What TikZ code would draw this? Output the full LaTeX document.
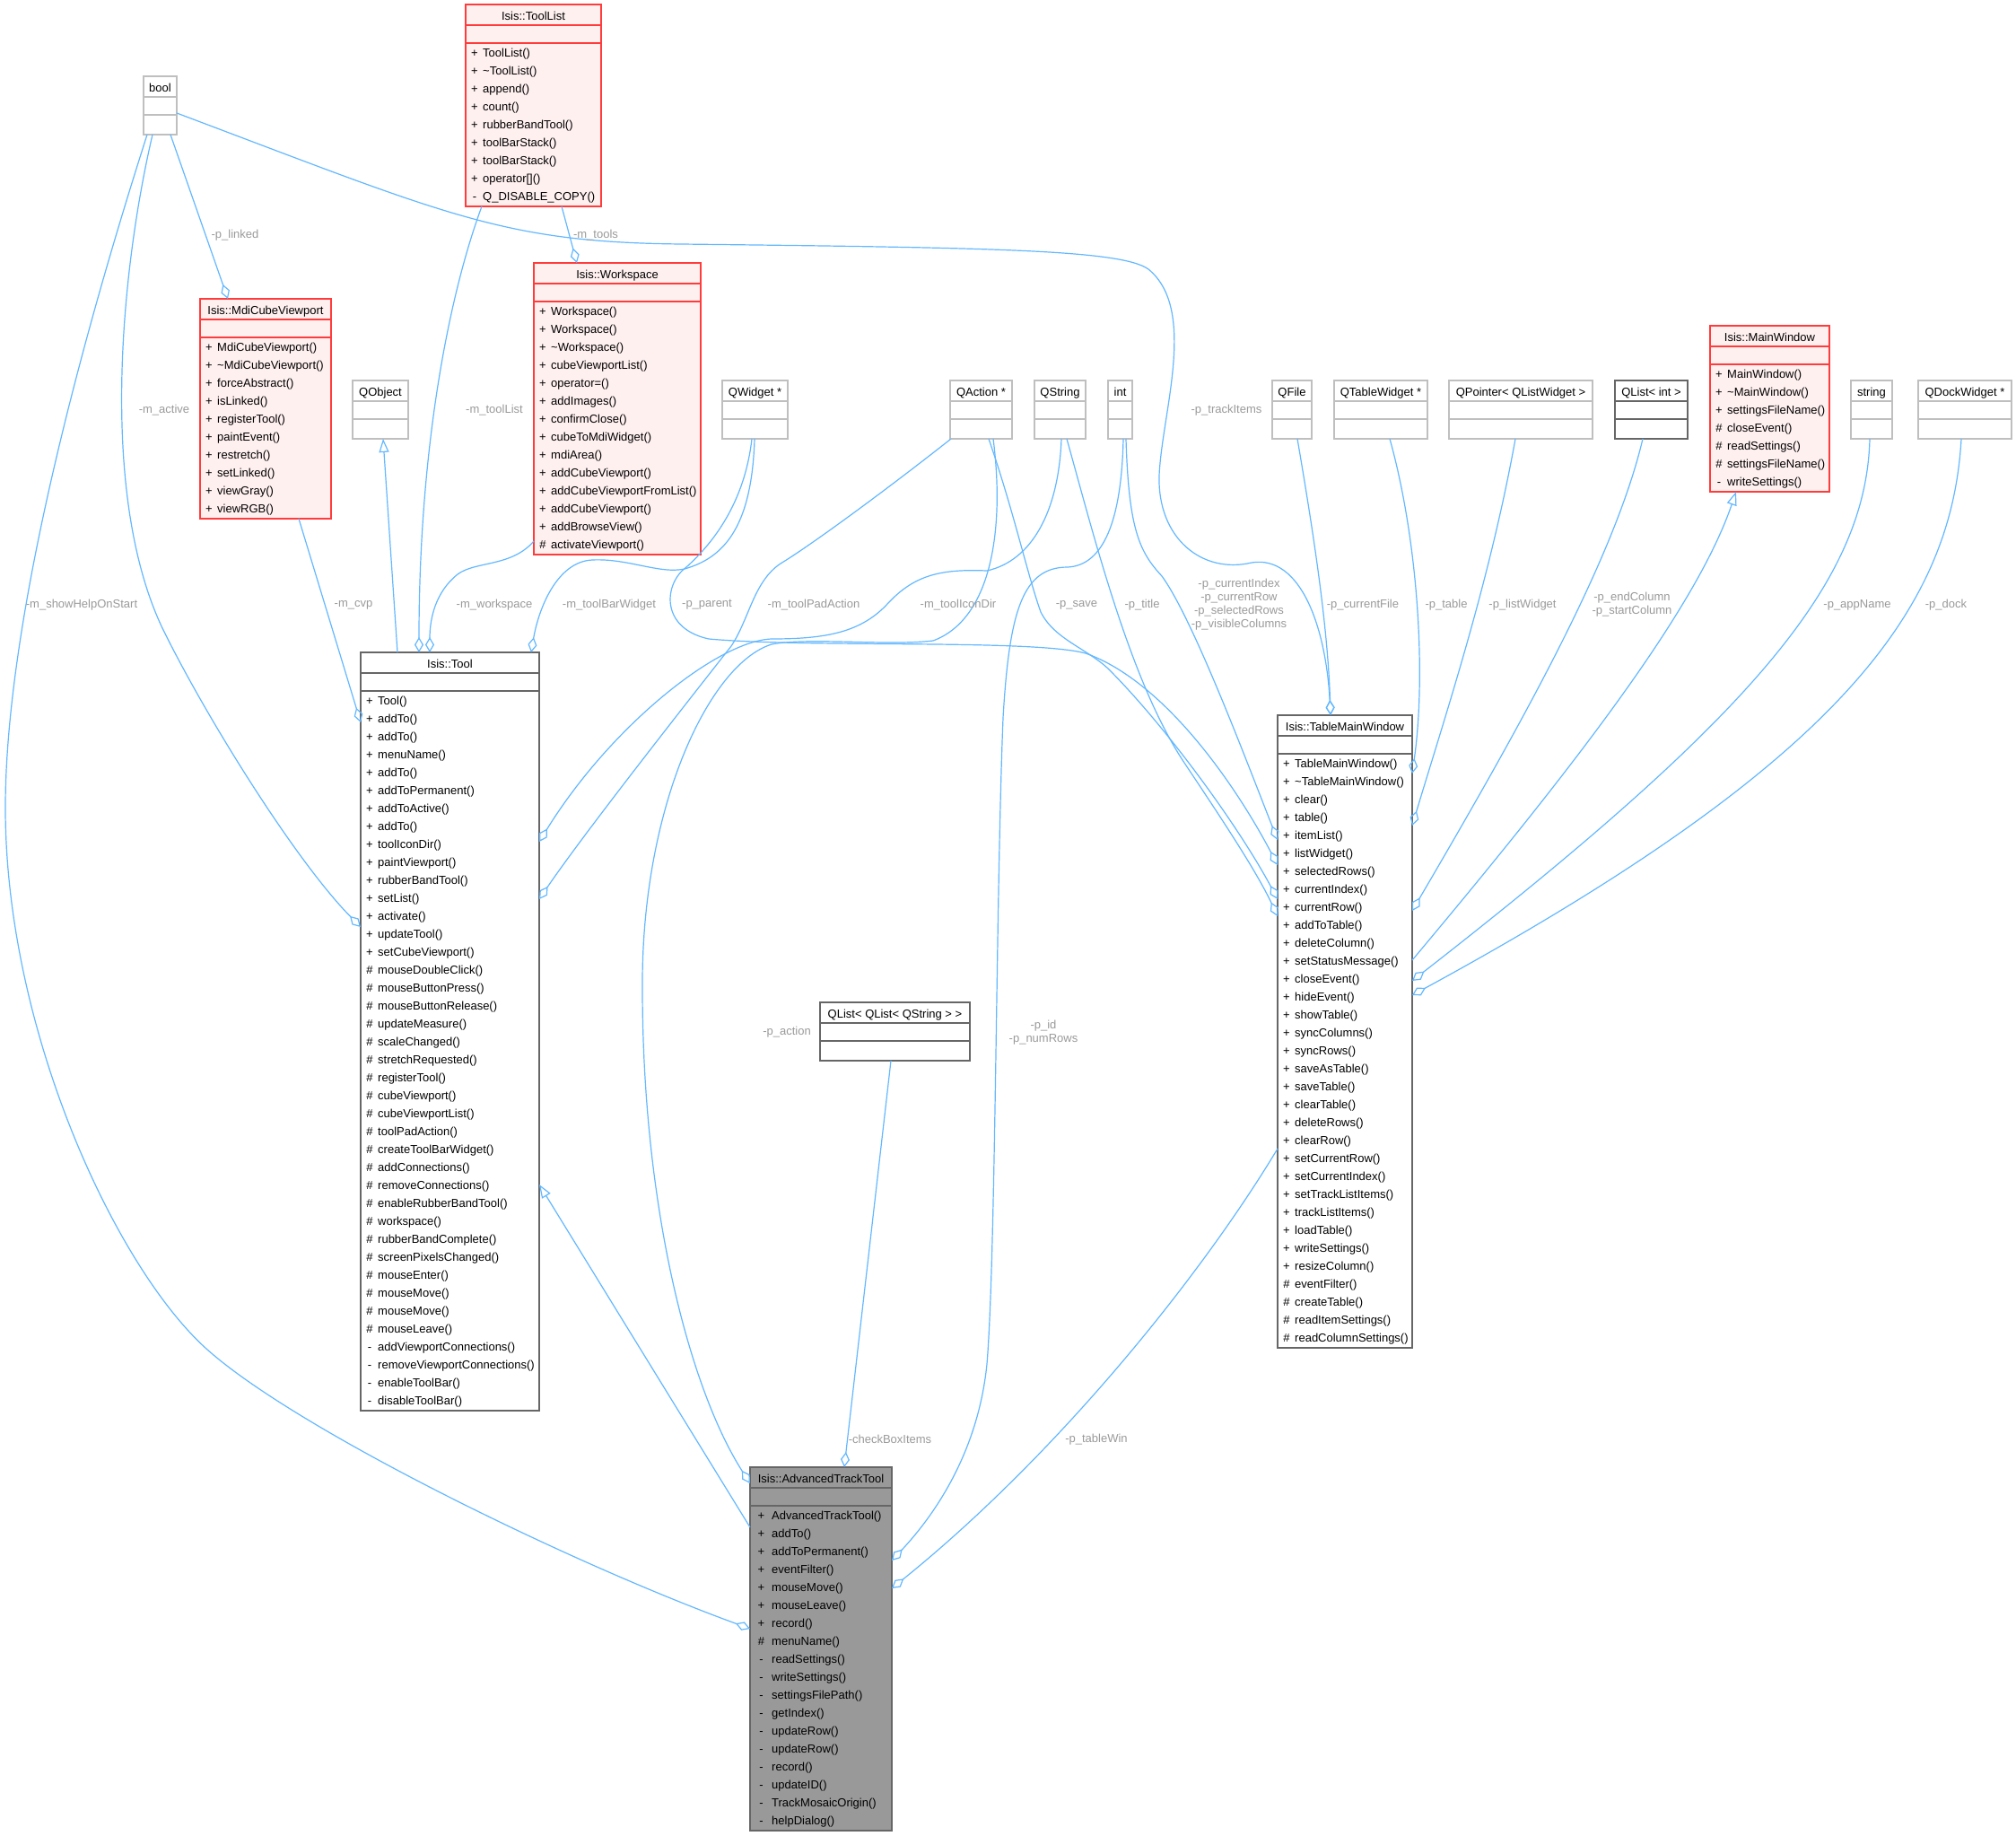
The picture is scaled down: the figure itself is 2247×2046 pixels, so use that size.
\documentclass[tikz,border=0pt]{standalone}
\usepackage{fontspec}
\setmainfont{Liberation Sans}
\usetikzlibrary{arrows.meta,calc}
\definecolor{edgeblue}{HTML}{63B8FF}
\definecolor{lblgray}{HTML}{9A9A9A}
\definecolor{extb}{HTML}{BFBFBF}
\definecolor{docb}{HTML}{666666}
\definecolor{truncb}{HTML}{FF3B3B}
\definecolor{truncf}{HTML}{FFF0F0}
\definecolor{curf}{HTML}{999999}
\tikzset{
 txt/.style={font=\fontsize{13}{15}\selectfont, inner sep=0pt, text=black},
 lbl/.style={font=\fontsize{13}{15}\selectfont, inner sep=0pt, text=lblgray, align=center},
 extbox/.style={draw=extb, fill=white, line width=1.3pt},
 extboxsep/.style={draw=extb, line width=1.3pt},
 docbox/.style={draw=docb, fill=white, line width=1.3pt},
 docboxsep/.style={draw=docb, line width=1.3pt},
 truncbox/.style={draw=truncb, fill=truncf, line width=1.3pt},
 truncboxsep/.style={draw=truncb, line width=1.3pt},
 curbox/.style={draw=docb, fill=curf, line width=1.3pt},
 curboxsep/.style={draw=docb, line width=1.3pt},
 edge/.style={draw=edgeblue, line width=1.2pt},
 agg/.style={edge, -{Diamond[open, length=17pt, width=10pt]}},
 inh/.style={edge, -{Triangle[open, length=15pt, width=11pt]}},
}
\newcommand{\umlbox}[7]{%
  \pgfmathtruncatemacro{\bh}{#5==0 ? 65 : 45+20*#5}%
  \node[#6, minimum width=#4pt, minimum height=\bh pt, anchor=north west, inner sep=0pt, outer sep=0pt] (#1) at (#2,#3) {};
  \draw[#6sep] ([yshift=-23pt]#1.north west) -- ([yshift=-23pt]#1.north east);
  \draw[#6sep] ([yshift=-43pt]#1.north west) -- ([yshift=-43pt]#1.north east);
  \node[txt, anchor=base] (#1-title) at ([yshift=-17.5pt]#1.north) {#7};
}
\newcommand{\umlmeth}[4]{%
  \foreach \p/\m [count=\i] in {#4} {
    \node[txt, anchor=base] (#1-p\i) at ([xshift=#2pt, yshift={-(38+20*\i)*1pt}]#1.north west) {\p};
    \node[txt, anchor=base west] (#1-m\i) at ([xshift=#3pt, yshift={-(38+20*\i)*1pt}]#1.north west) {\m};
  }
}
\begin{document}
\begin{tikzpicture}[x=1pt,y=-1pt]
\useasboundingbox (0,0) rectangle (2247,2046);
\fill[white] (0,0) rectangle (2247,2046);

% ---------- boxes ----------
\umlbox{bool}{160}{85}{37}{0}{extbox}{bool}
\umlbox{toollist}{519}{5}{151}{9}{truncbox}{Isis::ToolList}
\umlmeth{toollist}{10}{19}{+/ToolList(), +/\textasciitilde ToolList(), +/append(), +/count(), +/rubberBandTool(), +/toolBarStack(), +/toolBarStack(), +/operator[](), -/Q\_DISABLE\_COPY()}
\umlbox{mdi}{223}{333}{146}{10}{truncbox}{Isis::MdiCubeViewport}
\umlmeth{mdi}{10}{19}{+/MdiCubeViewport(), +/\textasciitilde MdiCubeViewport(), +/forceAbstract(), +/isLinked(), +/registerTool(), +/paintEvent(), +/restretch(), +/setLinked(), +/viewGray(), +/viewRGB()}
\umlbox{qobject}{393}{424}{62}{0}{extbox}{QObject}
\umlbox{ws}{595}{293}{186}{14}{truncbox}{Isis::Workspace}
\umlmeth{ws}{10}{19}{+/Workspace(), +/Workspace(), +/\textasciitilde Workspace(), +/cubeViewportList(), +/operator=(), +/addImages(), +/confirmClose(), +/cubeToMdiWidget(), +/mdiArea(), +/addCubeViewport(), +/addCubeViewportFromList(), +/addCubeViewport(), +/addBrowseView(), \#/activateViewport()}
\umlbox{qwidget}{805}{424}{73}{0}{extbox}{QWidget *}
\umlbox{qaction}{1059}{424}{69}{0}{extbox}{QAction *}
\umlbox{qstring}{1153}{424}{57}{0}{extbox}{QString}
\umlbox{intbox}{1235}{424}{27}{0}{extbox}{int}
\umlbox{qfile}{1418}{424}{44}{0}{extbox}{QFile}
\umlbox{qtw}{1487}{424}{104}{0}{extbox}{QTableWidget *}
\umlbox{qptr}{1615}{424}{160}{0}{extbox}{QPointer< QListWidget >}
\umlbox{qlint}{1800}{424}{81}{0}{docbox}{QList< int >}
\umlbox{mw}{1906}{363}{133}{7}{truncbox}{Isis::MainWindow}
\umlmeth{mw}{10}{19}{+/MainWindow(), +/\textasciitilde MainWindow(), +/settingsFileName(), \#/closeEvent(), \#/readSettings(), \#/settingsFileName(), -/writeSettings()}
\umlbox{strbox}{2063}{424}{46}{0}{extbox}{string}
\umlbox{qdock}{2138}{424}{104}{0}{extbox}{QDockWidget *}
\umlbox{tool}{402}{727}{199}{40}{docbox}{Isis::Tool}
\umlmeth{tool}{10}{19}{+/Tool(), +/addTo(), +/addTo(), +/menuName(), +/addTo(), +/addToPermanent(), +/addToActive(), +/addTo(), +/toolIconDir(), +/paintViewport(), +/rubberBandTool(), +/setList(), +/activate(), +/updateTool(), +/setCubeViewport(), \#/mouseDoubleClick(), \#/mouseButtonPress(), \#/mouseButtonRelease(), \#/updateMeasure(), \#/scaleChanged(), \#/stretchRequested(), \#/registerTool(), \#/cubeViewport(), \#/cubeViewportList(), \#/toolPadAction(), \#/createToolBarWidget(), \#/addConnections(), \#/removeConnections(), \#/enableRubberBandTool(), \#/workspace(), \#/rubberBandComplete(), \#/screenPixelsChanged(), \#/mouseEnter(), \#/mouseMove(), \#/mouseMove(), \#/mouseLeave(), -/addViewportConnections(), -/removeViewportConnections(), -/enableToolBar(), -/disableToolBar()}
\umlbox{qlql}{914}{1117}{167}{0}{docbox}{QList< QList< QString > >}
\umlbox{tmw}{1424}{797}{150}{33}{docbox}{Isis::TableMainWindow}
\umlmeth{tmw}{10}{19}{+/TableMainWindow(), +/\textasciitilde TableMainWindow(), +/clear(), +/table(), +/itemList(), +/listWidget(), +/selectedRows(), +/currentIndex(), +/currentRow(), +/addToTable(), +/deleteColumn(), +/setStatusMessage(), +/closeEvent(), +/hideEvent(), +/showTable(), +/syncColumns(), +/syncRows(), +/saveAsTable(), +/saveTable(), +/clearTable(), +/deleteRows(), +/clearRow(), +/setCurrentRow(), +/setCurrentIndex(), +/setTrackListItems(), +/trackListItems(), +/loadTable(), +/writeSettings(), +/resizeColumn(), \#/eventFilter(), \#/createTable(), \#/readItemSettings(), \#/readColumnSettings()}
\umlbox{att}{836}{1635}{158}{18}{curbox}{Isis::AdvancedTrackTool}
\umlmeth{att}{12.5}{24}{+/AdvancedTrackTool(), +/addTo(), +/addToPermanent(), +/eventFilter(), +/mouseMove(), +/mouseLeave(), +/record(), \#/menuName(), -/readSettings(), -/writeSettings(), -/settingsFilePath(), -/getIndex(), -/updateRow(), -/updateRow(), -/record(), -/updateID(), -/TrackMosaicOrigin(), -/helpDialog()}

% ---------- connectors ----------
% bool
\draw[agg] ([xshift=11.5pt]bool.south) -- ([xshift=31pt]mdi.north west);
\draw[agg] ([xshift=-8.5pt]bool.south) .. controls (135,300) and (110,550) .. (181,700) .. controls (230,800) and (330,960) .. ([yshift=-306pt]tool.north west);
\draw[agg] ([xshift=-14.5pt]bool.south) .. controls (129,260) and (6,650) .. (6,900) .. controls (6,1150) and (130,1413) .. (230,1503) .. controls (330,1593) and (636,1742) .. ([yshift=-180pt]att.north west);
\draw[agg] ([yshift=-41pt]bool.north east) .. controls (500,240) and (560,270) .. (760,272) .. controls (1100,276) and (1250,278) .. (1280,300) .. controls (1335,345) and (1295,460) .. (1292,530) .. controls (1290,600) and (1340,640) .. (1395,627) .. controls (1450,618) and (1478,700) .. ([xshift=59pt]tmw.north west);
% toollist / workspace / qobject / mdi
\draw[agg] ([xshift=107pt]toollist.south west) -- ([xshift=48pt]ws.north west);
\draw[agg] ([xshift=18pt]toollist.south west) .. controls (500,330) and (467,500) .. ([xshift=65pt]tool.north west);
\draw[inh] ([xshift=41pt]tool.north west) -- ([xshift=3pt]qobject.south);
\draw[agg] ([yshift=-310pt]ws.north west) .. controls (570,632) and (530,625) .. (510,640) .. controls (485,660) and (479,690) .. ([xshift=77pt]tool.north west);
\draw[agg] ([xshift=110pt]mdi.south west) -- ([yshift=-78pt]tool.north west);
% qwidget
\draw[agg] ([xshift=-0.5pt]qwidget.south) .. controls (838,590) and (805,622) .. (763,634) .. controls (735,640) and (700,622) .. (660,624) .. controls (620,626) and (600,680) .. ([xshift=190pt]tool.north west);
\draw[agg] ([xshift=-3.5pt]qwidget.south) .. controls (830,560) and (795,605) .. (765,632) .. controls (740,650) and (735,700) .. (790,712) .. controls (900,722) and (1150,712) .. (1210,728) .. controls (1300,760) and (1380,880) .. ([yshift=-167pt]tmw.north west);
% qaction
\draw[agg] ([xshift=1pt]qaction.south west) .. controls (980,552) and (900,610) .. (870,628) .. controls (840,648) and (835,690) .. (815,720) .. controls (760,790) and (650,930) .. ([yshift=-275pt]tool.north east);
\draw[agg] ([xshift=13.5pt]qaction.south) .. controls (1120,590) and (1105,690) .. (1040,714) .. controls (990,720) and (900,710) .. (860,718) .. controls (790,740) and (715,900) .. (716,1100) .. controls (716,1350) and (770,1550) .. ([yshift=-18pt]att.north west);
\draw[agg] ([xshift=8.5pt]qaction.south) .. controls (1130,570) and (1145,640) .. (1160,682) .. controls (1175,712) and (1210,722) .. (1235,745) .. controls (1300,810) and (1380,920) .. ([yshift=-205pt]tmw.north west);
% qstring
\draw[agg] ([xshift=1.5pt]qstring.south) .. controls (1180,570) and (1150,625) .. (1100,636) .. controls (1050,634) and (1020,640) .. (990,672) .. controls (960,705) and (920,712) .. (860,712) .. controls (800,714) and (680,810) .. ([yshift=-211pt]tool.north east);
\draw[agg] ([xshift=7.5pt]qstring.south) .. controls (1220,600) and (1260,760) .. (1320,850) .. controls (1360,910) and (1400,970) .. ([yshift=-224pt]tmw.north west);
% int
\draw[agg] ([xshift=6.5pt]intbox.south) .. controls (1258,590) and (1270,615) .. (1295,642) .. controls (1330,690) and (1390,850) .. ([yshift=-139pt]tmw.north west);
\draw[agg] ([xshift=3.5pt]intbox.south) .. controls (1250,580) and (1230,630) .. (1190,632) .. controls (1140,632) and (1125,680) .. (1118,800) .. controls (1110,1000) and (1110,1400) .. (1100,1520) .. controls (1090,1620) and (1040,1690) .. ([yshift=-104pt]att.north east);
% right-hand types
\draw[agg] ([xshift=6pt]qfile.south) .. controls (1465,600) and (1480,700) .. ([xshift=59pt]tmw.north west);
\draw[agg] ([xshift=10pt]qtw.south) .. controls (1580,600) and (1590,750) .. ([yshift=-65pt]tmw.north east);
\draw[agg] ([xshift=-6pt]qptr.south) .. controls (1660,650) and (1610,800) .. ([yshift=-123pt]tmw.north east);
\draw[agg] ([xshift=-9.5pt]qlint.south) .. controls (1800,620) and (1700,800) .. ([yshift=-218pt]tmw.north east);
\draw[inh] ([yshift=-273pt]tmw.north east) .. controls (1750,860) and (1890,680) .. ([xshift=-37.5pt]mw.south);
\draw[agg] ([xshift=-2pt]strbox.south) .. controls (2080,650) and (1950,800) .. ([yshift=-296pt]tmw.north east);
\draw[agg] ([xshift=-4pt]qdock.south) .. controls (2175,680) and (2050,850) .. ([yshift=-312pt]tmw.north east);
% bottom
\draw[agg] ([xshift=-4.5pt]qlql.south) -- ([xshift=105pt]att.north west);
\draw[agg] ([yshift=-483pt]tmw.north west) .. controls (1340,1420) and (1180,1620) .. ([yshift=-135pt]att.north east);
\draw[inh] ([yshift=-67pt]att.north west) -- ([yshift=-593pt]tool.north east);

% ---------- labels ----------
\node[lbl] (l1) at (262,262) {-p\_linked};
\node[lbl] (l2) at (664,262) {-m\_tools};
\node[lbl] (l3) at (183,457) {-m\_active};
\node[lbl] (l4) at (551,457) {-m\_toolList};
\node[lbl] (l5) at (1367,457) {-p\_trackItems};
\node[lbl] (l6) at (91,674) {-m\_showHelpOnStart};
\node[lbl] (l7) at (394,674) {-m\_cvp};
\node[lbl] (l8) at (551,674) {-m\_workspace};
\node[lbl] (l9) at (679,674) {-m\_toolBarWidget};
\node[lbl] (l10) at (788,674) {-p\_parent};
\node[lbl] (l11) at (907,674) {-m\_toolPadAction};
\node[lbl] (l12) at (1068,674) {-m\_toolIconDir};
\node[lbl] (l13) at (1200,674) {-p\_save};
\node[lbl] (l14) at (1273,674) {-p\_title};
\node[lbl] (l15) at (1381,674) {-p\_currentIndex\\-p\_currentRow\\-p\_selectedRows\\-p\_visibleColumns};
\node[lbl] (l16) at (1519,674) {-p\_currentFile};
\node[lbl] (l17) at (1612,674) {-p\_table};
\node[lbl] (l18) at (1697,674) {-p\_listWidget};
\node[lbl] (l19) at (1819,674) {-p\_endColumn\\-p\_startColumn};
\node[lbl] (l20) at (2070,674) {-p\_appName};
\node[lbl] (l21) at (2169,674) {-p\_dock};
\node[lbl] (l22) at (877,1150) {-p\_action};
\node[lbl] (l23) at (1163,1151) {-p\_id\\-p\_numRows};
\node[lbl] (l24) at (992,1604) {-checkBoxItems};
\node[lbl] (l25) at (1222,1604) {-p\_tableWin};
\end{tikzpicture}
\end{document}
